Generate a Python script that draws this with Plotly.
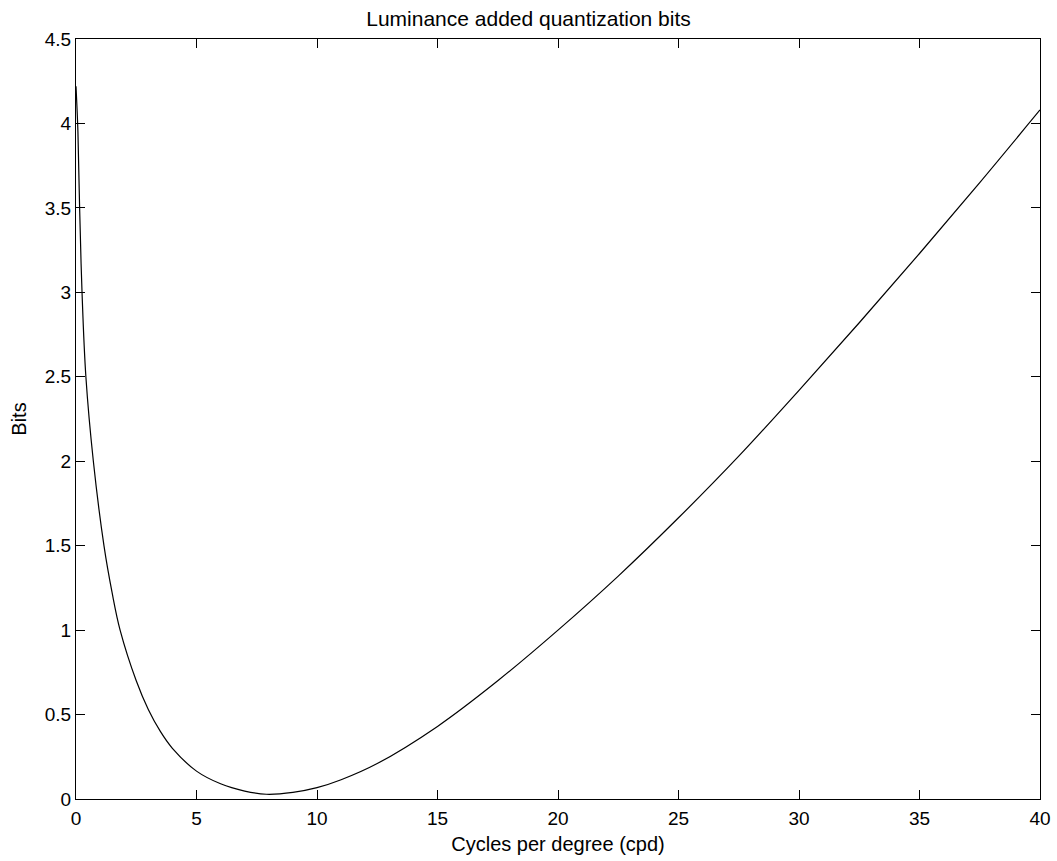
import plotly.graph_objects as go

# Added quantization bits for luminance vs. spatial frequency
cpd = [0.0, 0.08, 0.15, 0.25, 0.41, 0.72, 1.16, 1.5, 1.83, 2.5, 3.0, 3.5, 4.0,
       5.0, 6.0, 7.0, 7.9, 9.0, 10.0, 11.0, 12.5, 15.0, 17.5, 20.0, 22.5,
       25.0, 27.5, 30.0, 32.5, 35.0, 37.5, 40.0]
bits = [4.22, 3.95, 3.5, 3.0, 2.5, 2.0, 1.5, 1.22, 1.0, 0.70, 0.53, 0.40, 0.30,
        0.165, 0.09, 0.047, 0.028, 0.039, 0.067, 0.114, 0.21, 0.43, 0.70, 1.0, 1.32,
        1.665, 2.03, 2.42, 2.82, 3.23, 3.65, 4.08]

x_ticks = [0, 5, 10, 15, 20, 25, 30, 35, 40]
y_ticks = [0, 0.5, 1, 1.5, 2, 2.5, 3, 3.5, 4, 4.5]
y_tick_text = ["0", "0.5", "1", "1.5", "2", "2.5", "3", "3.5", "4", "4.5"]

font_family = "Liberation Sans, Arial, Helvetica, sans-serif"

fig = go.Figure(
    go.Scatter(
        x=cpd, y=bits, mode="lines",
        line=dict(color="black", width=1.2, shape="spline", smoothing=1.0),
        showlegend=False, hoverinfo="x+y",
    )
)

axis_common = dict(
    showgrid=False, zeroline=False, automargin=False,
    showline=True, linecolor="black", linewidth=1, mirror="allticks",
    ticks="inside", ticklen=9, tickwidth=1, tickcolor="black",
    tickfont=dict(family=font_family, size=19, color="black"),
)

fig.update_layout(
    width=1057, height=861,
    margin=dict(l=76, r=17, t=39, b=62),
    paper_bgcolor="white", plot_bgcolor="white",
    font=dict(family=font_family, color="black"),
    title=dict(text="Luminance added quantization bits",
               x=0.5, xanchor="center", y=1 - 19 / 861, yanchor="middle",
               font=dict(family=font_family, size=21, color="black")),
    xaxis=dict(range=[0, 40], tickvals=x_ticks, ticklabelstandoff=2,
               title=dict(text="Cycles per degree (cpd)", standoff=9,
                          font=dict(family=font_family, size=20, color="black")),
               **axis_common),
    yaxis=dict(range=[0, 4.5], tickvals=y_ticks, ticktext=y_tick_text,
               title=dict(text="Bits", standoff=12,
                          font=dict(family=font_family, size=20, color="black")),
               **axis_common),
)

fig.write_html("out.html")
